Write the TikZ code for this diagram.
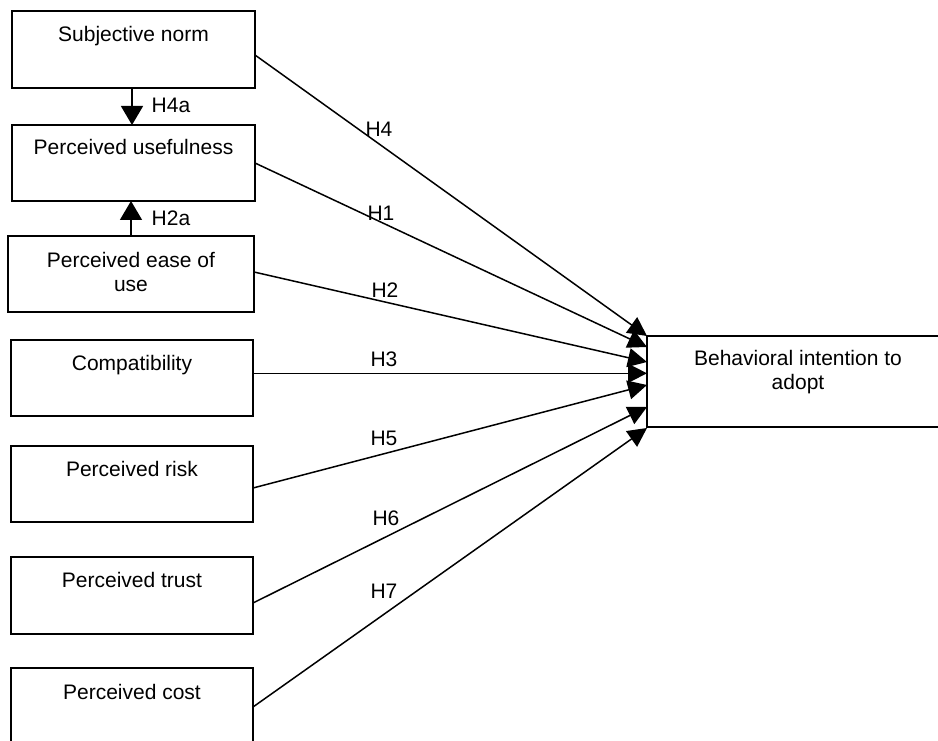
\documentclass[tikz,border=0pt]{standalone}
\usepackage{fontspec}
\setmainfont{Liberation Sans}
\usetikzlibrary{arrows.meta}
\begin{document}
\begin{tikzpicture}[x=1pt,y=-1pt,
  box/.style={draw, line width=1.5pt, minimum width=243pt, minimum height=77pt, inner sep=0pt, outer sep=0pt},
  txt/.style={font=\fontsize{21}{24}\selectfont, anchor=base, align=center, inner sep=0pt},
  lab/.style={font=\fontsize{21}{24}\selectfont, inner sep=0pt},
  conn/.style={line width=1.5pt, -{Triangle[length=19pt,width=19pt]}},
  vconn/.style={line width=1.5pt, -{Triangle[length=19pt,width=22pt]}}]
\useasboundingbox (0,0) rectangle (938,741);
\clip (0,0) rectangle (938,741);
% boxes
\node[box] (sn)  at (133.5,49.5) {};
\node[box, minimum height=76pt] (pu)  at (133.5,163) {};
\node[box, minimum width=246pt, minimum height=76pt] (peu) at (131,274) {};
\node[box, minimum width=242pt, minimum height=76pt] (cp)  at (132,378) {};
\node[box, minimum width=242pt, minimum height=76pt] (pr)  at (132,484) {};
\node[box, minimum width=242pt] (ptr) at (132,595.5) {};
\node[box, minimum width=242pt] (pc)  at (132,706.5) {};
\node[box, minimum width=302pt, minimum height=91pt] (bi) at (798,381.5) {};
% texts
\node[txt] (t1) at (133.5,42) {Subjective norm};
\node[txt] (t2) at (133.5,155) {Perceived usefulness};
\node[txt] (t3) at (131,291) {Perceived ease of\\use};
\node[txt] (t4) at (132,370) {Compatibility};
\node[txt] (t5) at (132,476) {Perceived risk};
\node[txt] (t6) at (132,587) {Perceived trust};
\node[txt] (t7) at (132,699) {Perceived cost};
\node[txt] (t8) at (798,389.5) {Behavioral intention to\\adopt};
% vertical arrows
\draw[vconn] ([xshift=-1.5pt]sn.south) -- ([xshift=-1.5pt]pu.north);
\draw[vconn] (peu.north) -- (peu.north |- pu.south);
\node[lab] (h4a) at (171,105) {H4a};
\node[lab] (h2a) at (171,218) {H2a};
% connectors to behavioral intention
\draw[conn] ([yshift=-5.5pt]sn.east)  -- ([yshift=45.5pt]bi.west);
\draw[conn] (pu.east)                 -- ([yshift=34.5pt]bi.west);
\draw[conn] ([yshift=2pt]peu.east)    -- ([yshift=19.5pt]bi.west);
\draw[conn] ([yshift=4.7pt]cp.east)   -- ([yshift=8.2pt]bi.west);
\draw[conn] ([yshift=-4pt]pr.east)    -- ([yshift=-3.5pt]bi.west);
\draw[conn] ([yshift=-7.5pt]ptr.east) -- ([yshift=-25.5pt]bi.west);
\draw[conn] ([yshift=-0.5pt]pc.east)  -- ([yshift=-46.5pt]bi.west);
% labels
\node[lab] (h4) at (379,129) {H4};
\node[lab] (h1) at (381,213) {H1};
\node[lab] (h2) at (385,290) {H2};
\node[lab] (h3) at (384,359) {H3};
\node[lab] (h5) at (384,438) {H5};
\node[lab] (h6) at (386,518) {H6};
\node[lab] (h7) at (384,591) {H7};
\end{tikzpicture}
\end{document}
